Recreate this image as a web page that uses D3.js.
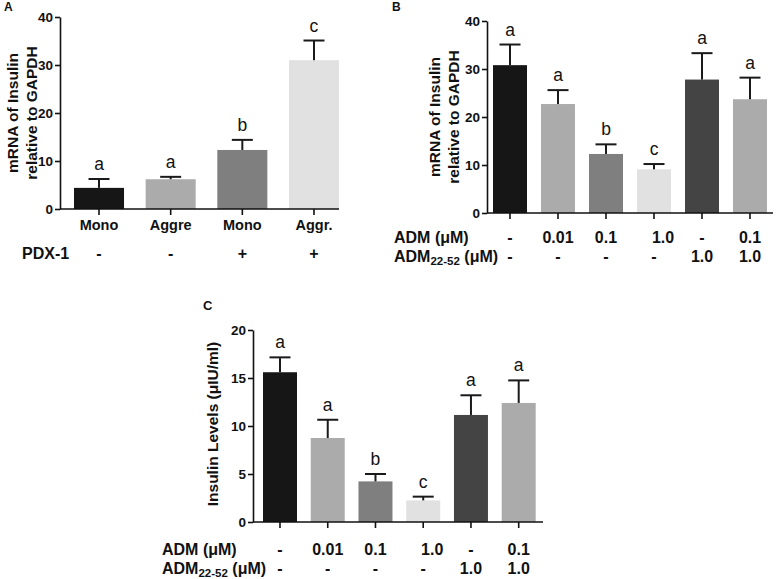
<!DOCTYPE html>
<html><head><meta charset="utf-8">
<script src="https://cdn.jsdelivr.net/npm/d3@7"></script>
<style>
body{margin:0;background:#fff;}
svg{display:block;font-family:"Liberation Sans",Arial,Helvetica,sans-serif;}
</style></head>
<body>
<svg id="chart" width="777" height="579"></svg>
<script>
// ---- Data ----
const catsA = ["Mono", "Aggre", "Mono", "Aggr."];
const pdxA = ["-", "-", "+", "+"];
const meanA = [4.4, 6.2, 12.3, 31.0];
const semA = [1.85, 0.5, 2.1, 4.1];
const sigA = ["a", "a", "b", "c"];
const colorsA = ["#161616", "#ababab", "#7f7f7f", "#e1e1e1"];
const ticksA = [0, 10, 20, 30, 40];

const admLabels = ["-", "0.01", "0.1", "1.0", "-", "0.1"];
const antagLabels = ["-", "-", "-", "-", "1.0", "1.0"];
const colorsBC = ["#161616", "#ababab", "#7f7f7f", "#e1e1e1", "#444444", "#ababab"];

const meanB = [30.8, 22.7, 12.3, 9.1, 27.8, 23.7];
const semB = [4.3, 2.9, 2.0, 1.1, 5.5, 4.5];
const sigB = ["a", "a", "b", "c", "a", "a"];
const ticksB = [0, 10, 20, 30, 40];

const meanC = [15.6, 8.75, 4.23, 2.25, 11.15, 12.4];
const semC = [1.55, 1.9, 0.77, 0.39, 2.05, 2.35];
const sigC = ["a", "a", "b", "c", "a", "a"];
const ticksC = [0, 5, 10, 15, 20];

const svg = d3.select("#chart");

function panel(o) {
  const g = svg.append("g");
  const n = o.mean.length;
  const x = d3.scaleBand().domain(d3.range(n)).range([o.barL, o.barR]).paddingInner(o.pad).paddingOuter(0);
  const y = d3.scaleLinear().domain(o.domain).range([o.y0, o.yTop]);

  g.selectAll("rect.bar").data(o.mean).join("rect")
    .attr("x", (d, i) => x(i)).attr("width", x.bandwidth())
    .attr("y", d => y(d)).attr("height", d => y(0) - y(d))
    .attr("fill", (d, i) => o.colors[i]);

  const cap = 21;
  o.mean.forEach((m, i) => {
    const cx = x(i) + x.bandwidth() / 2;
    const top = y(m + o.sem[i]);
    g.append("line").attr("x1", cx).attr("x2", cx).attr("y1", y(m)).attr("y2", top)
      .attr("stroke", "#1a1a1a").attr("stroke-width", 2);
    g.append("line").attr("x1", cx - cap / 2).attr("x2", cx + cap / 2).attr("y1", top).attr("y2", top)
      .attr("stroke", "#1a1a1a").attr("stroke-width", 2);
    g.append("text").attr("x", cx).attr("y", top - 9).attr("text-anchor", "middle")
      .attr("font-size", 17.5).attr("fill", "#111").text(o.sig[i]);
  });

  const ya = g.append("g").attr("transform", `translate(${o.axisX},0)`)
    .call(d3.axisLeft(y).tickValues(o.ticks).tickSize(5).tickSizeOuter(0).tickPadding(2));
  ya.selectAll("text").attr("font-size", 13.5).attr("font-weight", "bold").attr("fill", "#111").attr("font-family", "Liberation Sans, Arial, sans-serif");
  ya.selectAll("line").attr("stroke", "#111").attr("stroke-width", 1.6);
  ya.select(".domain").attr("stroke", "#111").attr("stroke-width", 1.6);

  g.append("line").attr("x1", o.axisX).attr("x2", o.axisEnd).attr("y1", y(0)).attr("y2", y(0))
    .attr("stroke", "#111").attr("stroke-width", 1.6);
  const xa = g.append("g").attr("transform", `translate(0,${y(0)})`)
    .call(d3.axisBottom(x).tickSize(6).tickSizeOuter(0).tickFormat(""));
  xa.select(".domain").remove();
  xa.selectAll("line").attr("stroke", "#111").attr("stroke-width", 1.6);

  o.rows.forEach(r => {
    if (r.title) {
      const t = g.append("text").attr("x", r.titleX).attr("y", r.y)
        .attr("font-size", 16).attr("font-weight", "bold").attr("fill", "#111");
      r.title(t);
    }
    r.values.forEach((v, i) => {
      g.append("text").attr("x", x(i) + x.bandwidth() / 2 + ((r.dx && r.dx[i]) || 0)).attr("y", r.y)
        .attr("text-anchor", "middle").attr("font-size", r.size || 16).attr("font-weight", "bold")
        .attr("fill", "#111").text(v);
    });
  });

  const yl = g.append("text").attr("transform", `translate(${o.ylabX},${o.ylabY}) rotate(-90)`)
    .attr("text-anchor", "middle").attr("font-size", 15.5).attr("font-weight", "bold").attr("fill", "#111");
  o.ylab.forEach((line, k) => {
    yl.append("tspan").attr("x", 0).attr("y", k * 19).text(line);
  });

  g.append("text").attr("x", o.letterX).attr("y", o.letterY).attr("font-size", o.letterSize || 12)
    .attr("font-weight", "bold").attr("fill", "#111").text(o.letter);
}

function admTitle(t) { t.text("ADM (μM)"); }
function antagTitle(t) {
  t.append("tspan").text("ADM");
  t.append("tspan").attr("font-size", 11.5).attr("dy", 3).text("22-52");
  t.append("tspan").attr("dy", -3).text(" (μM)");
}
const admDx = [0, 0, 0, 9, 0, 0];

panel({
  mean: meanA, sem: semA, sig: sigA, colors: colorsA, ticks: ticksA, domain: [0, 40],
  barL: 74, barR: 339, pad: 0.302, axisX: 60, axisEnd: 339, y0: 209, yTop: 17,
  rows: [
    { values: catsA, y: 230, size: 14.5 },
    { title: t => t.text("PDX-1"), titleX: 22, values: pdxA, y: 259 }
  ],
  ylab: ["mRNA of Insulin", "relative to GAPDH"], ylabX: 18, ylabY: 113,
  letter: "A", letterX: 4, letterY: 11
});

panel({
  mean: meanB, sem: semB, sig: sigB, colors: colorsBC, ticks: ticksB, domain: [0, 40],
  barL: 493, barR: 767, pad: 0.2917, axisX: 487, axisEnd: 773, y0: 213, yTop: 21,
  rows: [
    { title: admTitle, titleX: 394, values: admLabels, y: 243, dx: admDx },
    { title: antagTitle, titleX: 394, values: antagLabels, y: 262 }
  ],
  ylab: ["mRNA of Insulin", "relative to GAPDH"], ylabX: 440, ylabY: 117,
  letter: "B", letterX: 392, letterY: 11
});

panel({
  mean: meanC, sem: semC, sig: sigC, colors: colorsBC, ticks: ticksC, domain: [0, 20],
  barL: 263, barR: 535.7, pad: 0.288, axisX: 253, axisEnd: 543, y0: 522, yTop: 330,
  rows: [
    { title: admTitle, titleX: 162, values: admLabels, y: 555, dx: admDx },
    { title: antagTitle, titleX: 162, values: antagLabels, y: 574 }
  ],
  ylab: ["Insulin Levels (μIU/ml)"], ylabX: 218, ylabY: 424,
  letter: "C", letterX: 203, letterY: 310, letterSize: 13
});
</script>
</body></html>
